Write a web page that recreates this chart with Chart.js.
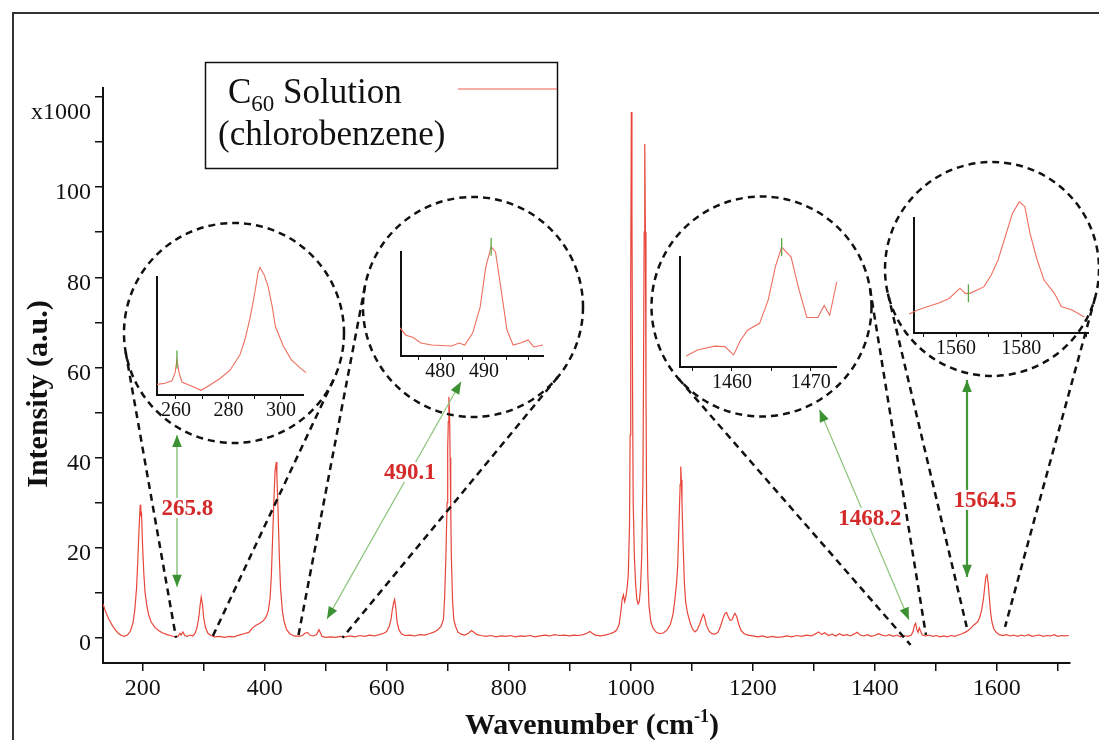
<!DOCTYPE html>
<html>
<head>
<meta charset="utf-8">
<title>C60 Raman spectrum</title>
<script src="https://cdn.jsdelivr.net/npm/chart.js@4.4.1/dist/chart.umd.min.js"></script>
<style>
  html, body { margin: 0; padding: 0; background: #fff; overflow: hidden; }
  #wrap { position: relative; width: 1099px; height: 740px; }
  #wrap canvas { position: absolute; }
</style>
</head>
<body>
<div id="wrap">
  <canvas id="myChart" width="1099" height="740" style="left:0;top:0"></canvas>
  <canvas id="inset1"></canvas>
  <canvas id="inset2"></canvas>
  <canvas id="inset3"></canvas>
  <canvas id="inset4"></canvas>
</div>
<script>
const SERIF = "'Liberation Serif', 'Times New Roman', serif";
Chart.defaults.font.family = SERIF;
Chart.defaults.color = '#111';

// main spectrum (wavenumber cm-1, intensity x1000)
const wavenumber = [135,138,141,145,150,155,160,165,170,175,180,184,187,190,192,194,196,197,198,200,202,204,207,210,214,220,226,232,240,248,
  254,258,261,263,266,269,273,278,282,286,289,292,294,296,298,300,303,307,312,318,326,334,342,350,358,366,374,380,386,392,
  398,402,406,409,411,413,415,417,419,420,422,424,426,429,432,436,441,448,456,462,466,470,474,480,485,489,491,494,500,508,
  516,524,532,540,548,556,564,572,580,588,595,600,604,607,609,611,613,615,617,620,624,630,638,646,654,662,670,678,684,689,
  693,695,697,699,700,701,702,703,704,705,706,708,710,713,717,722,728,734,739,743,748,755,763,771,779,787,795,803,811,819,
  827,835,843,851,859,867,875,883,891,899,907,915,922,928,933,937,942,950,958,966,972,977,981,984,986,988,990,992,994,996,
  998,999,1000,1001,1002,1003,1004,1006,1008,1010,1012,1014,1016,1018,1020,1021,1022,1023,1024,1025,1026,1028,1030,1033,1037,1042,1048,1054,1060,1065,
  1069,1072,1075,1077,1079,1081,1082,1083,1084,1086,1088,1090,1093,1097,1101,1105,1109,1113,1116,1119,1121,1124,1128,1133,1138,1143,1147,1151,1154,1157,
  1160,1163,1166,1169,1171,1174,1177,1181,1186,1192,1200,1208,1216,1224,1232,1240,1248,1256,1264,1272,1280,1288,1296,1302,1308,1313,1318,1324,1330,1336,
  1342,1348,1354,1360,1366,1371,1376,1382,1388,1394,1400,1406,1412,1418,1424,1430,1436,1442,1448,1454,1460,1463,1465,1467,1469,1471,1473,1475,1478,1483,
  1489,1495,1501,1507,1513,1519,1525,1531,1537,1543,1548,1553,1558,1562,1566,1569,1572,1575,1578,1580,1582,1584,1586,1588,1590,1592,1595,1599,1604,1610,
  1616,1622,1628,1634,1640,1646,1652,1658,1664,1670,1676,1682,1688,1694,1700,1706,1712,1718];
const intensity = [7.5,6.3,5.2,4.0,2.8,1.8,1.0,0.5,0.3,0.6,1.5,3.2,6,11,17,24,29.5,27,28,20,14,10,7,5,3.5,2.3,1.6,1.1,0.7,0.4,
  0.2,0.3,1.0,0.6,1.3,0.5,0.3,0.6,0.4,1.0,2.2,4.5,7,9,7.5,4.5,2.2,1.0,0.5,0.2,0.3,0.1,0.3,0.2,0.6,0.9,1.2,2.2,2.8,3.2,
  3.8,4.5,6,9,14,22,30,37,39,36,28,18,11,6,3.5,1.8,0.9,0.4,0.3,0.5,1.0,1.2,0.6,0.4,0.7,1.8,1.2,0.3,0.1,0.2,
  0.1,0.3,0.2,0.4,0.2,0.5,0.3,0.6,0.4,0.7,1.0,1.4,2.5,4,6,7.5,8.5,6.5,3.5,1.8,0.9,0.5,0.6,0.4,0.7,0.6,0.9,1.3,1.8,2.5,
  4,9,18,30,42,48,53.5,50,40,28,18,8,4,2.5,1.2,0.8,0.6,1.0,1.6,1.2,0.7,0.5,0.3,0.5,0.2,0.4,0.3,0.5,0.2,0.4,
  0.3,0.5,0.2,0.4,0.6,0.4,0.7,0.5,0.6,0.4,0.6,0.5,0.7,1.0,1.4,1.0,0.6,0.4,0.6,0.9,1.2,1.7,3,6,8.5,9.5,8,9,11,14,
  25,45,80,116.7,95,55,30,18,12,8.5,7.5,8,11,18,35,60,90,109.6,90,55,30,14,7,3.5,2,1.2,0.9,1.1,1.8,3,
  5,8,12,16,25,34,38,35,30,20,12,8,5.5,3.5,2,1.3,1.8,3,4.2,5.2,4.6,2.8,1.5,0.9,0.8,1.2,2.5,4.2,5.3,5.6,
  4.6,3.9,4.0,5.0,5.4,4.6,3,1.6,0.9,0.6,0.4,0.2,0.4,0.1,0.3,0.1,0.2,0.4,0.2,0.5,0.3,0.6,0.4,0.8,1.3,0.7,1.1,0.5,0.8,0.4,
  0.9,0.5,0.7,0.4,0.8,1.2,0.6,0.4,0.7,0.3,0.5,0.9,0.6,0.4,0.7,0.3,0.6,0.2,0.5,0.3,0.6,1.5,2.8,3.2,1.8,1.2,2.2,1.5,0.6,0.4,
  0.6,0.3,0.5,0.2,0.4,0.2,0.5,0.3,0.6,0.9,1.2,1.6,2.2,2.8,3.2,3.6,4.5,6,8.5,11,13.5,14,12,8.5,5.5,3.5,2,1.2,0.7,0.5,
  0.7,0.4,0.6,0.3,0.6,0.4,0.7,0.3,0.5,0.6,0.3,0.5,0.4,0.7,0.3,0.5,0.4,0.5];

const xTicks = [200,300,400,500,600,700,800,900,1000,1100,1200,1300,1400,1500,1600,1700];
const yTicks = [0,10,20,30,40,50,60,70,80,90,100,110,120];

// peak annotations (data coordinates of the main plot)
const peakLabels = ['265.8', '490.1', '1468.2', '1564.5'];
const labelAt = [[273.5, 28.8], [638, 36.8], [1392, 26.6], [1581, 30.6]];
const arrowFrom = [[256.3, 45], [721.8, 56.8], [1309.5, 50.6], [1551.2, 57.2]];
const arrowTo = [[256.3, 11.3], [502.2, 4.2], [1456, 4.0], [1551.2, 13.5]];
const zoomStart = [[254.7, 0], [454.6, 0], [1458.7, -1.6], [1550.7, 2.4]];
const zoomEnd = [[313.7, 0], [527.6, 0], [1483.9, 0.6], [1613.5, 2.4]];

// inset spectra (relative intensity)
const inset1X = [252.8,255.9,258.5,259.7,260.4,261.2,262.3,265.4,269.6,273,276.8,280.6,284.4,286.3,288.2,290,291.3,292,293.6,295.1,296.6,297.9,300.8,303.9,307.3,309.6,311];
const inset1Y = [9,10,12,19,30,19,11,8,4,8.5,14,21,34,47,65,86,104,108,102,92,76,58,42,30,23,19,15];
const inset2X = [470.9,472.2,473.8,475.6,478.1,482.6,484.3,485.6,487.4,489.1,490.4,491.6,492.6,493.8,495.2,496.6,498.3,500,501.3,503.4,505.6];
const inset2Y = [27,20,18,12.5,10.6,9.6,12.5,10.6,22,47,86,105,100,66,25,10.6,12.5,15.4,8.7,10.6,8.7];
const inset3X = [1454.2,1455.6,1457.8,1459.1,1460.2,1461.1,1462.0,1463.5,1464.6,1465.5,1466.3,1467.5,1468.4,1469.5,1470.9,1471.7,1472.4,1473.3,1474.2,1475.1];
const inset3Y = [10,15.5,19,18.5,11,24.5,33.6,39.7,61,91,109,100,73,45,45,56,47,77.5,76.6,80.6];
const inset4X = [1545.6,1548.2,1551.4,1554.7,1557.9,1561.2,1562.8,1564.3,1566.5,1568.6,1570.8,1572.9,1575.1,1577.3,1579.4,1581.1,1582.7,1584.9,1587.0,1590.2,1592.3,1595.6,1599.4];
const inset4Y = [16.5,20,23,26,30,39,34.5,34.5,37.4,40.3,50.4,63.5,83.7,104,114,110,86.7,63.5,46,34.5,23,20,14];
const insetMark = [[260.4, 30], [491.6, 105], [1466.3, 109], [1563.8, 34.5]];

// layout of the magnifier circles and inset plots (pixels)
const circles = [
  { cx: 234, cy: 333, r: 110 },
  { cx: 473, cy: 307, r: 110 },
  { cx: 761.5, cy: 306.5, r: 110 },
  { cx: 992, cy: 269, r: 107 }
];

function tangent(ci, p, side) {
  const dx = p[0] - ci.cx, dy = p[1] - ci.cy;
  const d = Math.hypot(dx, dy);
  const th = Math.atan2(dy, dx), al = Math.acos(Math.min(1, ci.r / d));
  const p1 = [ci.cx + ci.r * Math.cos(th + al), ci.cy + ci.r * Math.sin(th + al)];
  const p2 = [ci.cx + ci.r * Math.cos(th - al), ci.cy + ci.r * Math.sin(th - al)];
  if (side < 0) return p1[0] < p2[0] ? p1 : p2;
  return p1[0] > p2[0] ? p1 : p2;
}

function head(c, from, to, size) {
  const a = Math.atan2(to[1] - from[1], to[0] - from[0]);
  c.beginPath();
  c.moveTo(to[0], to[1]);
  c.lineTo(to[0] - size * Math.cos(a - 0.38), to[1] - size * Math.sin(a - 0.38));
  c.lineTo(to[0] - size * Math.cos(a + 0.38), to[1] - size * Math.sin(a + 0.38));
  c.closePath();
  c.fill();
}

const decor = {
  id: 'decor',
  afterDatasetsDraw(chart) {
    const c = chart.ctx;
    const sx = chart.scales.x, sy = chart.scales.y;
    const px = p => [sx.getPixelForValue(p[0]), sy.getPixelForValue(p[1])];
    c.save();

    // outer frame
    c.strokeStyle = '#333';
    c.lineWidth = 2;
    c.beginPath();
    c.moveTo(13, 740); c.lineTo(13, 13); c.lineTo(1099, 13);
    c.stroke();

    // legend box
    c.strokeStyle = '#111';
    c.lineWidth = 1.5;
    c.strokeRect(205.5, 62.5, 352, 106);
    c.fillStyle = '#111';
    c.textAlign = 'left';
    c.textBaseline = 'alphabetic';
    c.font = '35px ' + SERIF;
    c.fillText('C', 228, 103);
    const wC = c.measureText('C').width;
    c.font = '23px ' + SERIF;
    c.fillText('60', 228 + wC, 111);
    const w60 = c.measureText('60').width;
    c.font = '35px ' + SERIF;
    c.fillText(' Solution', 228 + wC + w60, 103);
    c.fillText('(chlorobenzene)', 218, 145);
    c.strokeStyle = '#ec5a4a';
    c.lineWidth = 1;
    c.beginPath(); c.moveTo(458, 89); c.lineTo(557, 89); c.stroke();

    // top tick label
    c.font = '24px ' + SERIF;
    c.textAlign = 'right';
    c.textBaseline = 'middle';
    c.fillText('x1000', 91, 113);

    // magnifier circles + zoom lines
    c.strokeStyle = '#111';
    c.lineWidth = 2.5;
    c.setLineDash([7, 5]);
    circles.forEach((ci, i) => {
      c.beginPath();
      c.arc(ci.cx, ci.cy, ci.r, 0, Math.PI * 2);
      c.stroke();
      const a = px(zoomStart[i]), b = px(zoomEnd[i]);
      const ta = tangent(ci, a, -1), tb = tangent(ci, b, 1);
      c.beginPath();
      c.moveTo(ta[0], ta[1]); c.lineTo(a[0], a[1]);
      c.moveTo(tb[0], tb[1]); c.lineTo(b[0], b[1]);
      c.stroke();
    });
    c.setLineDash([]);

    // green double arrows
    const lineCol = ['#7dbb68', '#8cc47a', '#8cc47a', '#3f9a35'];
    const lineW = [1.3, 1.2, 1.2, 2.2];
    arrowFrom.forEach((f, i) => {
      const a = px(f), b = px(arrowTo[i]);
      c.strokeStyle = lineCol[i];
      c.lineWidth = lineW[i];
      c.beginPath(); c.moveTo(a[0], a[1]); c.lineTo(b[0], b[1]); c.stroke();
      c.fillStyle = '#3c9132';
      head(c, b, a, 13);
      head(c, a, b, 13);
    });

    // peak labels
    c.font = 'bold 23px ' + SERIF;
    c.textAlign = 'center';
    c.textBaseline = 'middle';
    peakLabels.forEach((t, i) => {
      const p = px(labelAt[i]);
      const w = c.measureText(t).width;
      c.fillStyle = '#fff';
      c.fillRect(p[0] - w / 2 - 1, p[1] - 10, w + 2, 20);
      c.fillStyle = '#d42a2a';
      c.fillText(t, p[0], p[1] + 1);
    });

    // axis titles
    c.fillStyle = '#111';
    c.textBaseline = 'alphabetic';
    c.textAlign = 'left';
    const big = 'bold 30px ' + SERIF, small = 'bold 18px ' + SERIF;
    c.font = big;
    const t1 = 'Wavenumber (cm', t3 = ')';
    const w1 = c.measureText(t1).width, w3 = c.measureText(t3).width;
    c.font = small;
    const w2 = c.measureText('-1').width;
    let x0 = 592 - (w1 + w2 + w3) / 2;
    c.font = big; c.fillText(t1, x0, 734);
    c.font = small; c.fillText('-1', x0 + w1, 722);
    c.font = big; c.fillText(t3, x0 + w1 + w2, 734);

    c.translate(47, 394);
    c.rotate(-Math.PI / 2);
    c.textAlign = 'center';
    c.fillText('Intensity (a.u.)', 0, 0);

    c.restore();
  }
};

const ctx = document.getElementById('myChart');
const myChart = new Chart(ctx, {
  type: 'line',
  data: {
    datasets: [{
      data: wavenumber.map((x, i) => ({ x: x, y: intensity[i] })),
      borderColor: '#e8463a',
      borderWidth: 1.2,
      pointRadius: 0,
      tension: 0
    }]
  },
  options: {
    responsive: false,
    animation: false,
    layout: { padding: { left: 0, top: 88, right: 29, bottom: 0 } },
    plugins: {
      legend: { display: false },
      tooltip: { enabled: false }
    },
    scales: {
      x: {
        type: 'linear',
        min: 135,
        max: 1720,
        afterBuildTicks: s => { s.ticks = xTicks.map(v => ({ value: v })); },
        afterFit: s => { s.height = 77; s.paddingLeft = 0; s.paddingRight = 0; },
        ticks: {
          callback: v => v % 200 === 0 ? String(v) : '',
          font: { size: 24 },
          color: '#111',
          padding: 3,
          maxRotation: 0,
          autoSkip: false
        },
        grid: { drawOnChartArea: false, tickLength: 8, color: '#111', lineWidth: 1.5 },
        border: { color: '#111', width: 2 }
      },
      y: {
        min: -5.6,
        max: 122,
        afterBuildTicks: s => { s.ticks = yTicks.map(v => ({ value: v })); },
        afterFit: s => { s.width = 103; s.paddingTop = 0; s.paddingBottom = 0; },
        ticks: {
          callback: v => (v % 20 === 0 && v <= 100) ? String(v) : '',
          font: { size: 24 },
          color: '#111',
          padding: 4,
          labelOffset: 6,
          autoSkip: false
        },
        grid: { drawOnChartArea: false, tickLength: 8, color: '#111', lineWidth: 1.5 },
        border: { color: '#111', width: 2 }
      }
    }
  },
  plugins: [decor]
});

// inset plots
const insets = [
  { id: 'inset1', xs: inset1X, ys: inset1Y, box: [157, 277, 303, 395], range: [252.8, 308.4], ticks: [260, 270, 280, 290, 300], labels: [260, 280, 300] },
  { id: 'inset2', xs: inset2X, ys: inset2Y, box: [401, 252, 543, 356], range: [471.1, 503.4], ticks: [475, 480, 485, 490, 495, 500], labels: [480, 490] },
  { id: 'inset3', xs: inset3X, ys: inset3Y, box: [680, 257, 836, 367], range: [1453.4, 1473.2], ticks: [1455, 1460, 1465, 1470], labels: [1460, 1470] },
  { id: 'inset4', xs: inset4X, ys: inset4Y, box: [914, 218, 1087.5, 333], range: [1547.1, 1600.5], ticks: [1550, 1560, 1570, 1580, 1590, 1600], labels: [1560, 1580] }
];

insets.forEach((ins, k) => {
  const el = document.getElementById(ins.id);
  const padL = 10, padT = 24, padR = 30, padB = 32;
  const [l, t, r, b] = ins.box;
  el.width = Math.round(r - l + padL + padR);
  el.height = Math.round(b - t + padT + padB);
  el.style.left = (l - padL) + 'px';
  el.style.top = (t - padT) + 'px';
  const mark = insetMark[k];
  new Chart(el, {
    type: 'line',
    data: {
      datasets: [{
        data: ins.xs.map((x, i) => ({ x: x, y: ins.ys[i] })),
        borderColor: '#ee6f5f',
        borderWidth: 1.1,
        pointRadius: 0,
        clip: false
      }]
    },
    options: {
      responsive: false,
      animation: false,
      layout: { padding: { left: padL, top: padT, right: padR, bottom: 0 } },
      plugins: { legend: { display: false }, tooltip: { enabled: false } },
      scales: {
        x: {
          type: 'linear',
          min: ins.range[0],
          max: ins.range[1],
          afterBuildTicks: s => { s.ticks = ins.ticks.map(v => ({ value: v })); },
          afterFit: s => { s.height = padB; s.paddingLeft = 0; s.paddingRight = 0; },
          ticks: {
            callback: v => ins.labels.includes(v) ? String(v) : '',
            font: { size: 20 },
            color: '#111',
            padding: 0,
            maxRotation: 0,
            autoSkip: false
          },
          grid: { drawOnChartArea: false, tickLength: 4, color: '#111' },
          border: { color: '#111', width: 2 }
        },
        y: {
          min: 0,
          max: 100,
          afterFit: s => { s.width = 0; s.paddingTop = 0; s.paddingBottom = 0; },
          ticks: { display: false },
          grid: { drawOnChartArea: false, drawTicks: false },
          border: { color: '#111', width: 2 }
        }
      }
    },
    plugins: [{
      id: 'mark',
      afterDatasetsDraw(chart) {
        const c = chart.ctx;
        const x = chart.scales.x.getPixelForValue(mark[0]);
        const y = chart.scales.y.getPixelForValue(mark[1]);
        c.save();
        c.strokeStyle = '#5aa845';
        c.lineWidth = 1.3;
        c.beginPath(); c.moveTo(x, y - 9); c.lineTo(x, y + 9); c.stroke();
        c.restore();
      }
    }]
  });
});
</script>
</body>
</html>
